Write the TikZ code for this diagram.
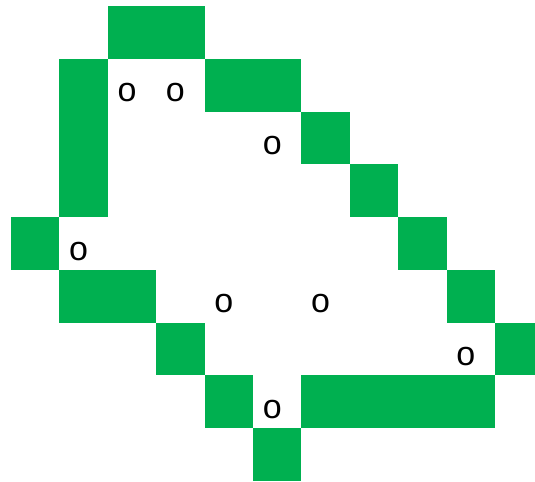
\documentclass[tikz,border=0pt]{standalone}
\usepackage{fontspec}
\setmainfont{Liberation Sans}
\definecolor{cellgreen}{HTML}{00B050}
\begin{document}
\begin{tikzpicture}[x=48.4pt,y=-52.78pt,
  cell/.style={fill=cellgreen,draw=none},
  mark/.style={},
  letter/.style={font=\fontsize{34}{40}\selectfont,inner sep=0pt,anchor=center,xshift=-5pt,yshift=-7.5pt}]
\useasboundingbox (-0.2273,-0.1137) rectangle (10.826,9);
% green cells: (col,row)
\foreach \c/\r in {2/0,3/0,
  1/1,4/1,5/1,
  1/2,6/2,
  1/3,7/3,
  0/4,8/4,
  1/5,2/5,9/5,
  3/6,
  4/7,6/7,7/7,8/7,9/7,
  5/8}
  \fill[cell] (\c,\r) rectangle ++(1,1);
\fill[cell] (10,6) rectangle (10.826,7);
% letters
\node[letter] (o1) at (2.5,1.5) {o};
\node[letter] (o2) at (3.5,1.5) {o};
\node[letter] (o3) at (5.5,2.5) {o};
\node[letter] (o4) at (1.5,4.5) {o};
\node[letter] (o5) at (4.5,5.5) {o};
\node[letter] (o6) at (6.5,5.5) {o};
\node[letter] (o7) at (9.5,6.5) {o};
\node[letter] (o8) at (5.5,7.5) {o};
\end{tikzpicture}
\end{document}
